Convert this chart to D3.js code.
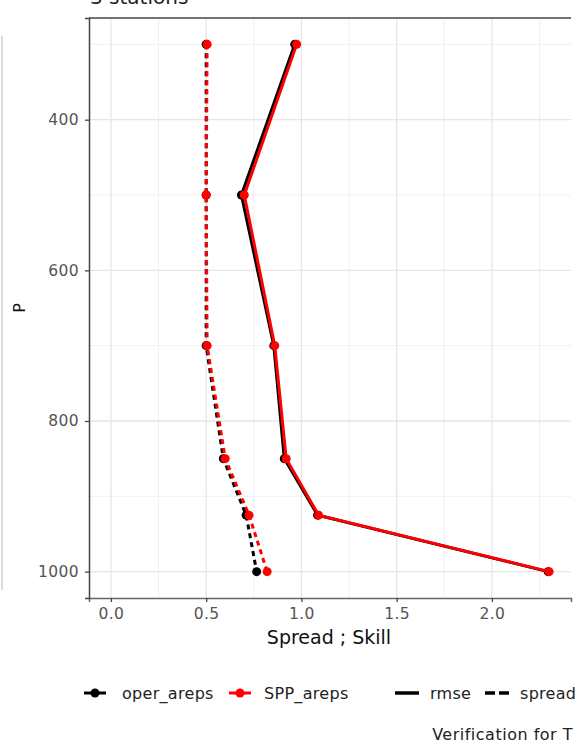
<!DOCTYPE html>
<html>
<head>
<meta charset="utf-8">
<script src="https://cdn.jsdelivr.net/npm/d3@7"></script>
<style>
  body { margin: 0; background: #fff; }
  svg { display: block; font-family: "DejaVu Sans", sans-serif; }
</style>
</head>
<body>
<svg id="chart"></svg>
<script>
// Pressure levels (hPa) and verification scores
const levels = [300, 500, 700, 850, 925, 1000];
const operRmse = [0.965, 0.685, 0.855, 0.91, 1.085, 2.295];
const sppRmse = [0.975, 0.70, 0.86, 0.92, 1.09, 2.30];
const operSpread = [0.50, 0.50, 0.50, 0.59, 0.71, 0.765];
const sppSpread = [0.505, 0.50, 0.505, 0.60, 0.725, 0.82];

const xTicks = [0, 0.5, 1.0, 1.5, 2.0];
const xMinor = [0.25, 0.75, 1.25, 1.75, 2.25];
const yTicks = [400, 600, 800, 1000];
const yMinor = [300, 500, 700, 900];

const width = 577, height = 745;
const panel = { left: 89, right: 571, top: 18, bottom: 598 };

const svg = d3.select("#chart")
    .attr("width", width)
    .attr("height", height);

svg.append("rect").attr("width", width).attr("height", height).attr("fill", "#fff");

// Scales (ggplot style 5% expansion around [0, 2.3] and [300, 1000])
const x = d3.scaleLinear().domain([-0.115, 2.415]).range([panel.left, panel.right]);
const y = d3.scaleLinear().domain([265, 1035]).range([panel.top, panel.bottom]);

// leftover edge of neighbouring panel
svg.append("line")
    .attr("x1", 2).attr("x2", 2).attr("y1", 36).attr("y2", 590)
    .attr("stroke", "#d0d0d0").attr("stroke-width", 1.5);

// Grid
const grid = svg.append("g");
grid.selectAll(".xminor").data(xMinor).enter().append("line")
    .attr("x1", d => x(d)).attr("x2", d => x(d))
    .attr("y1", panel.top).attr("y2", panel.bottom)
    .attr("stroke", "#f0f0f0").attr("stroke-width", 1);
grid.selectAll(".yminor").data(yMinor).enter().append("line")
    .attr("y1", d => y(d)).attr("y2", d => y(d))
    .attr("x1", panel.left).attr("x2", panel.right)
    .attr("stroke", "#f0f0f0").attr("stroke-width", 1);
grid.selectAll(".xmajor").data(xTicks).enter().append("line")
    .attr("x1", d => x(d)).attr("x2", d => x(d))
    .attr("y1", panel.top).attr("y2", panel.bottom)
    .attr("stroke", "#e6e6e6").attr("stroke-width", 1.3);
grid.selectAll(".ymajor").data(yTicks).enter().append("line")
    .attr("y1", d => y(d)).attr("y2", d => y(d))
    .attr("x1", panel.left).attr("x2", panel.right)
    .attr("stroke", "#e6e6e6").attr("stroke-width", 1.3);

// Top border
svg.append("line")
    .attr("x1", panel.left).attr("x2", panel.right)
    .attr("y1", panel.top).attr("y2", panel.top)
    .attr("stroke", "#444").attr("stroke-width", 1.5);

// Axes
const xAxis = svg.append("g")
    .attr("transform", "translate(0," + panel.bottom + ")")
    .call(d3.axisBottom(x).tickValues(xTicks).tickFormat(d3.format(".1f")).tickSizeOuter(0).tickSize(4).tickPadding(6));
const yAxis = svg.append("g")
    .attr("transform", "translate(" + panel.left + ",0)")
    .call(d3.axisLeft(y).tickValues(yTicks).tickFormat(d3.format("d")).tickSizeOuter(0).tickSize(4).tickPadding(6));

[xAxis, yAxis].forEach(a => {
    a.select(".domain").attr("stroke", "#444").attr("stroke-width", 1.5);
    a.selectAll(".tick line").attr("stroke", "#444").attr("stroke-width", 1.3);
    a.selectAll(".tick text").attr("fill", "#555").attr("font-size", 15.5)
        .attr("letter-spacing", 0.4)
        .attr("font-family", "DejaVu Sans, sans-serif");
});
xAxis.select(".domain").attr("stroke", "#666");

// Series lines and points
const series = [
    { name: "oper_areps", color: "#000", rmse: operRmse, spread: operSpread },
    { name: "SPP_areps", color: "#ff0000", rmse: sppRmse, spread: sppSpread }
];

const line = d3.line().x(d => x(d[0])).y(d => y(d[1]));

series.forEach(s => {
    const rm = s.rmse.map((v, i) => [v, levels[i]]);
    const sp = s.spread.map((v, i) => [v, levels[i]]);
    svg.append("path").datum(rm).attr("d", line)
        .attr("fill", "none").attr("stroke", s.color).attr("stroke-width", 3);
    svg.append("path").datum(sp).attr("d", line)
        .attr("fill", "none").attr("stroke", s.color).attr("stroke-width", 3)
        .attr("stroke-dasharray", "5,4");
    svg.selectAll(null).data(rm.concat(sp)).enter().append("circle")
        .attr("cx", d => x(d[0])).attr("cy", d => y(d[1]))
        .attr("r", 4.5).attr("fill", s.color);
});

// Titles
svg.append("text")
    .attr("x", 90).attr("y", 4)
    .attr("font-size", 20).attr("fill", "#222")
    .text("3 stations");

svg.append("text")
    .attr("x", (panel.left + panel.right) / 2 - 1).attr("y", 644)
    .attr("text-anchor", "middle")
    .attr("font-size", 19).attr("fill", "#111")
    .text("Spread ; Skill");

svg.append("text")
    .attr("transform", "translate(25," + ((panel.top + panel.bottom) / 2) + ") rotate(-90)")
    .attr("text-anchor", "middle")
    .attr("font-size", 16).attr("fill", "#111")
    .text("P");

// Legend
const legY = 693;
const legend = svg.append("g").attr("font-size", 16).attr("fill", "#222")
    .attr("letter-spacing", 0.3);
const colorItems = [
    { label: "oper_areps", color: "#000", x0: 84, tx: 122 },
    { label: "SPP_areps", color: "#ff0000", x0: 229, tx: 264 }
];
colorItems.forEach(it => {
    legend.append("line").attr("x1", it.x0).attr("x2", it.x0 + 22)
        .attr("y1", legY).attr("y2", legY)
        .attr("stroke", it.color).attr("stroke-width", 3);
    legend.append("circle").attr("cx", it.x0 + 11).attr("cy", legY).attr("r", 4.5).attr("fill", it.color);
    legend.append("text").attr("x", it.tx).attr("y", legY + 6).text(it.label);
});
const typeItems = [
    { label: "rmse", dash: null, x0: 395, tx: 430 },
    { label: "spread", dash: "10,4", x0: 485, tx: 520 }
];
typeItems.forEach(it => {
    legend.append("line").attr("x1", it.x0).attr("x2", it.x0 + 24)
        .attr("y1", legY).attr("y2", legY)
        .attr("stroke", "#000").attr("stroke-width", 3.5)
        .attr("stroke-dasharray", it.dash);
    legend.append("text").attr("x", it.tx).attr("y", legY + 6).text(it.label);
});

svg.append("text")
    .attr("x", 573).attr("y", 740)
    .attr("text-anchor", "end")
    .attr("font-size", 16).attr("fill", "#222")
    .attr("letter-spacing", 0.5)
    .text("Verification for T");
</script>
</body>
</html>
